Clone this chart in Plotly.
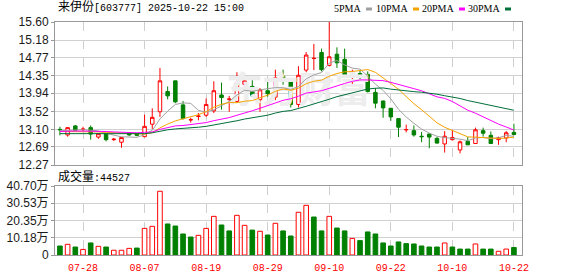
import plotly.graph_objects as go
import pandas as pd

# ---------------- data ----------------
dates = ["07-23", "07-24", "07-25", "07-28", "07-29", "07-30", "07-31", "08-01", "08-04", "08-05",
         "08-06", "08-07", "08-08", "08-11", "08-12", "08-13", "08-14", "08-15", "08-18", "08-19",
         "08-20", "08-21", "08-22", "08-25", "08-26", "08-27", "08-28", "08-29", "09-01", "09-02",
         "09-03", "09-04", "09-05", "09-08", "09-09", "09-10", "09-11", "09-12", "09-15", "09-16",
         "09-17", "09-18", "09-19", "09-22", "09-23", "09-24", "09-25", "09-26", "09-29", "09-30",
         "10-09", "10-10", "10-13", "10-14", "10-15", "10-16", "10-17", "10-20", "10-21", "10-22"]

opens = [13.10, 12.97, 13.18, 13.10, 13.14, 12.92, 13.00, 12.86, 12.80, 13.02,
         13.00, 12.93, 13.22, 13.51, 13.98, 14.23, 13.67, 13.32, 13.40, 13.43,
         13.53, 13.90, 13.80, 13.75, 14.15, 14.10, 13.79, 14.00, 13.85, 14.34,
         14.23, 13.68, 14.48, 14.75, 14.89, 14.59, 14.85, 14.73, 14.35, 14.40,
         14.38, 13.96, 13.76, 13.59, 13.35, 13.09, 13.07, 12.94, 12.99, 12.89,
         12.76, 12.86, 12.62, 12.82, 12.77, 13.07, 12.96, 12.86, 12.90, 13.03]
highs = [13.16, 13.14, 13.20, 13.16, 13.19, 13.01, 13.00, 12.90, 12.92, 13.03,
         13.01, 13.44, 13.59, 14.53, 14.10, 14.23, 13.76, 13.37, 13.48, 13.82,
         14.22, 14.19, 13.88, 14.43, 14.34, 14.30, 14.06, 14.30, 14.49, 14.49,
         14.26, 14.57, 14.90, 15.09, 14.98, 15.60, 15.01, 14.98, 14.49, 14.48,
         14.45, 14.06, 13.77, 13.60, 13.35, 13.21, 13.19, 13.04, 13.01, 12.92,
         13.06, 13.09, 12.84, 12.92, 13.14, 13.14, 13.05, 12.93, 13.06, 13.23]
lows = [12.96, 12.93, 13.06, 13.06, 12.86, 12.88, 12.82, 12.83, 12.67, 12.95,
        12.94, 12.92, 13.11, 13.39, 13.80, 13.71, 13.33, 13.26, 13.31, 13.39,
        13.48, 13.56, 13.51, 13.72, 14.02, 13.85, 13.51, 13.86, 13.78, 14.14,
        13.61, 13.61, 14.43, 14.48, 14.45, 14.57, 14.53, 14.30, 14.16, 14.27,
        13.96, 13.59, 13.37, 13.30, 12.92, 13.03, 12.93, 12.80, 12.66, 12.77,
        12.56, 12.84, 12.54, 12.74, 12.76, 12.93, 12.77, 12.74, 12.80, 12.96]
closes = [13.09, 13.14, 13.08, 13.105, 12.99, 13.00, 12.86, 12.87, 12.91, 12.97,
          12.96, 13.17, 13.38, 14.23, 13.88, 13.74, 13.35, 13.325, 13.41, 13.68,
          14.00, 13.84, 13.805, 14.18, 14.23, 13.88, 14.02, 13.93, 14.30, 14.22,
          13.68, 14.36, 14.83, 14.755, 14.49, 14.79, 14.65, 14.32, 14.38, 14.37,
          13.98, 13.71, 13.60, 13.39, 13.15, 13.095, 12.97, 12.93, 12.92, 12.78,
          12.94, 12.91, 12.81, 12.74, 13.09, 13.01, 12.77, 12.905, 13.02, 12.98]
# volume in lots (手)
volumes = [53000, 63000, 47000, 33000, 71000, 51000, 47000, 28000, 28000, 39000,
           41000, 157000, 169000, 376000, 183000, 171000, 124000, 106000, 116000, 157000,
           228000, 177000, 142000, 234000, 175000, 147000, 140000, 118000, 187000, 142000,
           112000, 252000, 293000, 224000, 142000, 228000, 159000, 142000, 98000, 85000,
           136000, 124000, 71000, 53000, 77000, 67000, 65000, 53000, 47000, 47000,
           71000, 47000, 35000, 35000, 65000, 35000, 35000, 22000, 35000, 44527]

# moving-average values before a full window exists
ma5_head = [13.07, 13.08, 13.08, 13.09]
ma10_head = [13.05, 13.05, 13.05, 13.05, 13.04, 13.04, 13.03, 13.02, 13.01]
ma20_head = [13.05, 13.06, 13.06, 13.06, 13.06, 13.06, 13.05, 13.04, 13.03, 13.02,
             13.02, 13.03, 13.04, 13.10, 13.14, 13.18, 13.19, 13.21, 13.22]
ma30_head = [13.00, 13.00, 13.00, 13.00, 13.00, 13.00, 13.00, 13.00, 13.00, 13.00,
             13.00, 13.00, 13.02, 13.06, 13.09, 13.11, 13.12, 13.13, 13.15, 13.17,
             13.20, 13.23, 13.26, 13.30, 13.34, 13.37, 13.40, 13.43, 13.48]

price_ticks = [15.60, 15.18, 14.77, 14.35, 13.94, 13.52, 13.10, 12.69, 12.27]
vol_ticks = [40.70, 30.53, 20.35, 10.18, 0]          # 万
vol_tick_text = ["40.70万", "30.53万", "20.35万", "10.18万", "0"]
x_tick_labels = ["07-28", "08-07", "08-19", "08-29", "09-10", "09-22", "10-10", "10-22"]

stock_name = "来伊份"
stock_code = "603777"
timestamp = "2025-10-22 15:00"
ma_names = ["5PMA", "10PMA", "20PMA", "30PMA"]

# ---------------- derived ----------------
cs = pd.Series(closes)
def moving_avg(n, head):
    return head + cs.rolling(n).mean().tolist()[n - 1:]

ma_series = [moving_avg(5, ma5_head), moving_avg(10, ma10_head),
             moving_avg(20, ma20_head), moving_avg(30, ma30_head)]
ma_colors = ["#a0a0a0", "#f5a300", "#ff00ff", "#006f3a"]

vol_wan = [v / 10000 for v in volumes]
vol_up = [(closes[i] > (closes[i - 1] if i > 0 else opens[i])) for i in range(len(closes))]

RED = "#ff0000"
GREEN = "#008000"

# ---------------- layout geometry ----------------
W, H = 578, 276
ML, MR, MT, MB = 55, 56, 22, 21
PW = W - ML - MR
PH = H - MT - MB
def px_x(x):
    return (x - ML) / PW
def px_y(y):
    return (H - MB - y) / PH

main_dom = [px_y(165), 1.0]
vol_dom = [0.0, px_y(186)]

fig = go.Figure()

# watermark (behind everything)
fig.add_trace(go.Scatter(
    x=[dates[31]], y=[13.93], mode="text", text=["东方财富"],
    textfont=dict(family="Noto Sans CJK SC", size=36, color="#ededed", weight="bold"),
    hoverinfo="skip", showlegend=False, xaxis="x", yaxis="y"))

fig.add_trace(go.Candlestick(
    x=dates, open=opens, high=highs, low=lows, close=closes,
    increasing=dict(line=dict(color=RED, width=1), fillcolor="#ffffff"),
    decreasing=dict(line=dict(color=GREEN, width=1), fillcolor=GREEN),
    whiskerwidth=0, showlegend=False, xaxis="x", yaxis="y"))

for vals, col, name in zip(ma_series, ma_colors, ma_names):
    fig.add_trace(go.Scatter(x=dates, y=vals, mode="lines", name=name,
                             line=dict(color=col, width=1), showlegend=False,
                             xaxis="x", yaxis="y"))

fig.add_trace(go.Bar(
    x=dates, y=vol_wan, width=0.6,
    marker=dict(color=["#ffffff" if u else GREEN for u in vol_up],
                line=dict(color=[RED if u else GREEN for u in vol_up], width=1)),
    showlegend=False, xaxis="x2", yaxis="y2"))

axis_font = dict(family="Liberation Sans, Noto Sans CJK SC", size=12, color="#1a1a1a")
common_x = dict(type="category", categoryorder="array", categoryarray=dates,
                range=[-0.64, 60.05], tickmode="array", tickvals=x_tick_labels,
                showgrid=True, gridcolor="#cfcfcf", griddash="dash", gridwidth=1,
                showline=True, mirror=True, linecolor="#999999", linewidth=1,
                zeroline=False, ticks="", fixedrange=True, automargin=False)

fig.update_layout(
    width=W, height=H, margin=dict(l=ML, r=MR, t=MT, b=MB, autoexpand=False),
    paper_bgcolor="#ffffff", plot_bgcolor="#ffffff",
    boxgap=0.35, bargap=0.3,
    xaxis=dict(common_x, anchor="y", showticklabels=False,
               rangeslider=dict(visible=False)),
    xaxis2=dict(common_x, anchor="y2", matches="x", showticklabels=True,
                ticklabelstandoff=3,
                tickfont=dict(family="Liberation Mono", size=10, color=RED)),
    yaxis=dict(domain=main_dom, range=[12.27, 15.60], tickmode="array",
               tickvals=price_ticks, ticktext=[f"{v:.2f}" for v in price_ticks],
               showgrid=True, gridcolor="#d0d0d0", zeroline=False,
               showline=True, mirror=True, linecolor="#999999", linewidth=1,
               ticks="outside", ticklen=3, tickcolor="#999999", automargin=False,
               tickfont=axis_font, fixedrange=True),
    yaxis2=dict(domain=vol_dom, range=[0, 40.70], tickmode="array",
                tickvals=vol_ticks, ticktext=vol_tick_text,
                showgrid=True, gridcolor="#d0d0d0", zeroline=False,
                showline=True, mirror=True, linecolor="#999999", linewidth=1,
                ticks="outside", ticklen=3, tickcolor="#999999", automargin=False,
                tickfont=axis_font, fixedrange=True),
    showlegend=False,
)

mono = "Liberation Mono, Noto Sans CJK SC"
fig.add_annotation(
    xref="paper", yref="paper", x=px_x(56), y=px_y(8), xanchor="left", yanchor="middle",
    text=f'<span style="font-size:12px">{stock_name}</span>[{stock_code}] {timestamp}',
    showarrow=False, font=dict(family=mono, size=10, color="#000000"))

fig.add_annotation(
    xref="paper", yref="paper", x=px_x(56), y=px_y(177), xanchor="left", yanchor="middle",
    text=f'<span style="font-size:12px">成交量</span>:{volumes[-1]}',
    showarrow=False, font=dict(family=mono, size=10, color="#000000"))

# MA legend at top right
legend_right = [363, 410, 456, 502]
for name, col, xr in zip(ma_names, ma_colors, legend_right):
    fig.add_annotation(xref="paper", yref="paper", x=px_x(xr), y=px_y(9),
                       xanchor="right", yanchor="middle", text=name, showarrow=False,
                       font=dict(family="Liberation Serif", size=10, color="#000000"))
    fig.add_shape(type="rect", xref="paper", yref="paper",
                  x0=px_x(xr + 3), x1=px_x(xr + 9), y0=px_y(10.5), y1=px_y(7.5),
                  fillcolor=col, line=dict(width=0))

fig.write_html("out.html")
